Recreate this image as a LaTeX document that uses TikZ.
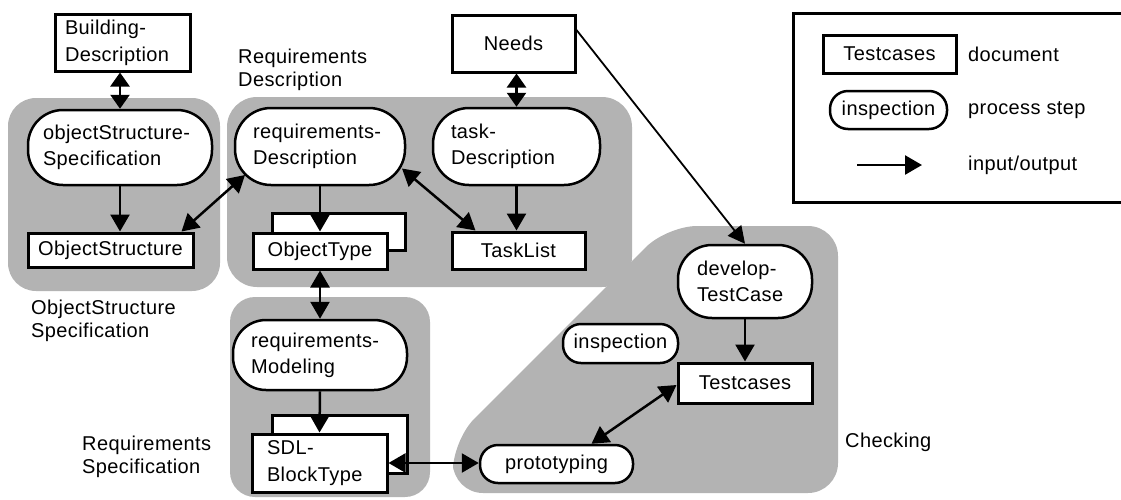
\documentclass[tikz,border=0pt]{standalone}
\usepackage{fontspec}
\setmainfont{Liberation Sans}[LetterSpace=2]
\usetikzlibrary{arrows.meta,calc}
\definecolor{shade}{RGB}{179,179,179}
\begin{document}
\begin{tikzpicture}[x=1pt,y=-1pt,
  doc/.style={draw, line width=3pt, fill=white, inner sep=0pt, font=\fontsize{20}{27}\selectfont},
  proc/.style={draw, line width=2.5pt, fill=white, inner sep=0pt, font=\fontsize{20}{26}\selectfont},
  lbl/.style={inner sep=0pt, align=left, font=\fontsize{20}{23}\selectfont},
  io/.style={line width=2.5pt, -{Triangle[length=17pt,width=19pt]}},
  bio/.style={line width=2.5pt, {Triangle[length=17pt,width=19pt]}-{Triangle[length=17pt,width=19pt]}},
  sbio/.style={line width=2.5pt, {Triangle[length=14pt,width=19pt]}-{Triangle[length=14pt,width=19pt]}},
  thinio/.style={line width=1.8pt, -{Triangle[length=17pt,width=17pt]}},
  region/.style={fill=shade, draw=none}
]
\useasboundingbox (0,0) rectangle (1121,499);

% shaded regions
\fill[region, rounded corners=28pt] (8,98) rectangle (220,291);
\fill[region, rounded corners=30pt] (227,97) rectangle (632,287);
\fill[region, rounded corners=25pt] (230,297) rectangle (430,497);
\fill[region, rounded corners=30pt] (453,493) -- (453,440) -- (667,226) -- (838,226) -- (838,493) -- cycle;

% back boxes (stacked documents)
\node[doc, minimum width=133pt, minimum height=37pt] (otb) at (338.5,231.5) {};
\node[doc, minimum width=135pt, minimum height=58pt] (sdlb) at (339.5,444) {};

% documents
\node[doc, minimum width=135pt, minimum height=57pt, text width=115pt, align=left] (bd) at (122.5,42.5) {Building-\\Description};
\node[doc, minimum width=123pt, minimum height=57pt] (needs) at (513.5,43.5) {Needs};
\node[doc, minimum width=165pt, minimum height=34pt] (os) at (110.5,250) {ObjectStructure};
\node[doc, minimum width=134pt, minimum height=36pt] (ot) at (320,251) {ObjectType};
\node[doc, minimum width=133pt, minimum height=37pt] (tl) at (518.5,250.5) {TaskList};
\node[doc, minimum width=135pt, minimum height=58pt, text width=105pt, align=left] (sdl) at (319.5,463) {SDL-\\BlockType};
\node[doc, minimum width=134pt, minimum height=40pt] (tc) at (745,383) {Testcases};

% process steps
\node[proc, rounded corners=35pt, minimum width=184pt, minimum height=75pt, text width=154pt, align=left] (oss) at (120,147.5) {objectStructure-\\Specification};
\node[proc, rounded corners=36pt, minimum width=170pt, minimum height=77pt, text width=134pt, align=left] (rd) at (320,146.5) {requirements-\\Description};
\node[proc, rounded corners=36pt, minimum width=167pt, minimum height=77pt, text width=131pt, align=left] (td) at (516.5,146.5) {task-\\Description};
\node[proc, rounded corners=33pt, minimum width=174pt, minimum height=70pt, text width=138pt, align=left] (rm) at (320,355) {requirements-\\Modeling};
\node[proc, rounded corners=34pt, minimum width=134pt, minimum height=73pt, text width=96pt, align=left] (dtc) at (745,281.5) {develop-\\TestCase};
\node[proc, rounded corners=18pt, minimum width=115pt, minimum height=39pt] (insp) at (620.5,343.5) {inspection};
\node[proc, rounded corners=18pt, minimum width=153pt, minimum height=38pt] (proto) at (556.5,464) {prototyping};

% labels
\node[lbl, anchor=west] (lreqd) at (238,70) {Requirements\\Description};
\node[lbl, anchor=west] (loss) at (31,321) {ObjectStructure\\Specification};
\node[lbl, anchor=west] (lreqs) at (82,457) {Requirements\\Specification};
\node[lbl, anchor=west] (lchk) at (845,442) {Checking};

% connectors
\draw[sbio] (oss.north |- bd.south) -- (oss.north);
\draw[io] (oss.south) -- (oss.south |- os.north);
\draw[bio] ([xshift=-13pt]os.north east) -- ($(rd.center)+(-75,28.5)$);
\draw[sbio] (needs.south -| td.north) -- (td.north);
\draw[io] (rd.south) -- (ot.north);
\draw[io] (td.south) -- (td.south |- tl.north);
\draw[bio] ($(rd.center)+(82,22)$) -- ([xshift=25pt]tl.north west);
\draw[bio] (ot.south) -- (rm.north);
\draw[io] (rm.south) -- (sdl.north);
\draw[bio] (sdl.east) -- (sdl.east -| proto.west);
\draw[thinio] ([yshift=13.5pt]needs.east) -- (dtc.north);
\draw[io] (dtc.south) -- (tc.north);
\draw[bio] ([yshift=-2pt]tc.west) -- ([xshift=35pt]proto.north);

% legend
\draw[line width=3pt] (1121,13) -- (793,13) -- (793,202) -- (1121,202);
\node[doc, minimum width=133pt, minimum height=38pt] (ltc) at (889.5,54) {Testcases};
\node[lbl, anchor=west] (ldoc) at (968,54) {document};
\node[proc, rounded corners=18pt, minimum width=117pt, minimum height=38pt] (linsp) at (888.5,110) {inspection};
\node[lbl, anchor=west] (lproc) at (968,110) {process step};
\coordinate (la1) at (857,165);
\coordinate (la2) at (922,165);
\draw[io] (la1) -- (la2);
\node[lbl, anchor=west] (lio) at (968,165) {input/output};
\end{tikzpicture}
\end{document}
